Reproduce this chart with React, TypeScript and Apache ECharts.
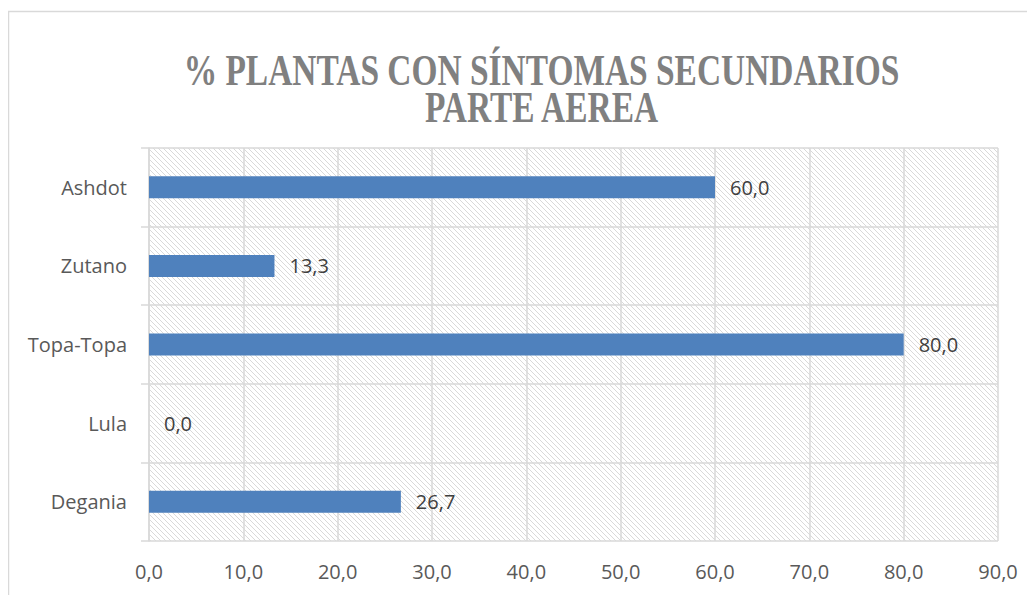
import React, { useEffect, useRef } from "react";
import * as echarts from "echarts";

const categories = ["Degania", "Lula", "Topa-Topa", "Zutano", "Ashdot"];
const values = [26.7, 0.0, 80.0, 13.3, 60.0];
const titleLines = ["% PLANTAS CON SÍNTOMAS SECUNDARIOS", "PARTE AEREA"];
const xMin = 0;
const xMax = 90;
const xStep = 10;

function makeHatch(): HTMLCanvasElement {
  const s = 5;
  const c = document.createElement("canvas");
  c.width = s;
  c.height = s;
  const ctx = c.getContext("2d")!;
  ctx.fillStyle = "#ffffff";
  ctx.fillRect(0, 0, s, s);
  ctx.strokeStyle = "#d9d9d9";
  ctx.lineWidth = 1;
  for (let k = -1; k <= 1; k++) {
    ctx.beginPath();
    ctx.moveTo(k * s, 0);
    ctx.lineTo(k * s + s, s);
    ctx.stroke();
  }
  return c;
}

const fmt = (v: number) => v.toFixed(1).replace(".", ",");

export default function App() {
  const ref = useRef<HTMLDivElement>(null);
  useEffect(() => {
    if (!ref.current) return;
    const chart = echarts.init(ref.current, null, { renderer: "svg" });
    const font = "'Open Sans', sans-serif";
    chart.setOption({
      animation: false,
      backgroundColor: "#ffffff",
      grid: {
        left: 141,
        top: 140,
        right: 37,
        bottom: 54,
        show: true,
        borderWidth: 0,
        backgroundColor: { image: makeHatch(), repeat: "repeat" },
      },
      xAxis: {
        type: "value",
        min: xMin,
        max: xMax,
        interval: xStep,
        axisLine: { show: false },
        axisTick: { show: false },
        splitLine: { show: true, lineStyle: { color: "#d9d9d9", width: 1.5 } },
        axisLabel: {
          formatter: (v: number) => fmt(v),
          color: "#595959",
          fontFamily: font,
          fontSize: 20,
          margin: 20,
        },
      },
      yAxis: {
        type: "category",
        data: categories,
        axisLine: { show: true, lineStyle: { color: "#d9d9d9", width: 1.5 } },
        axisTick: { show: true, length: 8, lineStyle: { color: "#d9d9d9", width: 1.5 } },
        splitLine: { show: true, lineStyle: { color: "#d9d9d9", width: 1.5 } },
        axisLabel: {
          color: "#595959",
          fontFamily: font,
          fontSize: 20,
          margin: 22,
        },
      },
      series: [
        {
          type: "bar",
          data: values,
          barWidth: 22,
          itemStyle: { color: "#4f81bd" },
          label: {
            show: true,
            position: "right",
            distance: 15,
            formatter: (p: any) => fmt(p.value),
            color: "#404040",
            fontFamily: font,
            fontSize: 20,
          },
        },
      ],
      graphic: [
        {
          type: "rect",
          silent: true,
          shape: { x: 0.5, y: 3.5, width: 3000, height: 3000 },
          style: { fill: "none", stroke: "#d9d9d9", lineWidth: 1.5 },
          z: 100,
        },
        ...titleLines.map((t, i) => ({
          type: "text",
          silent: true,
          x: 533.5,
          y: 62 + i * 37,
          scaleX: 0.76,
          style: {
            text: t,
            fill: "#808080",
            font: "bold 44px 'Liberation Serif', serif",
            textAlign: "center",
            textVerticalAlign: "middle",
          },
        })),
      ],
    });
    return () => chart.dispose();
  }, []);
  return <div ref={ref} style={{ width: 1027, height: 587 }} />;
}
